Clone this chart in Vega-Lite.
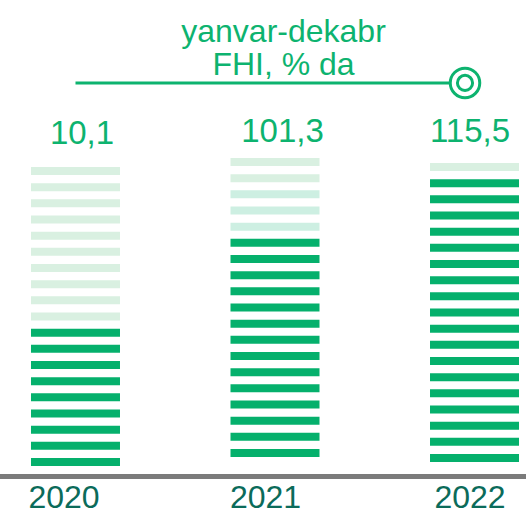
{
  "$schema": "https://vega.github.io/schema/vega-lite/v6.json",
  "width": 526,
  "height": 514,
  "padding": 0,
  "autosize": {"type": "none"},
  "background": "white",
  "config": {"view": {"stroke": null}},
  "datasets": {
    "stripes": [
      {"year": "2020", "stripe": 1, "status": "dark"},
      {"year": "2020", "stripe": 2, "status": "dark"},
      {"year": "2020", "stripe": 3, "status": "dark"},
      {"year": "2020", "stripe": 4, "status": "dark"},
      {"year": "2020", "stripe": 5, "status": "dark"},
      {"year": "2020", "stripe": 6, "status": "dark"},
      {"year": "2020", "stripe": 7, "status": "dark"},
      {"year": "2020", "stripe": 8, "status": "dark"},
      {"year": "2020", "stripe": 9, "status": "dark"},
      {"year": "2020", "stripe": 10, "status": "light"},
      {"year": "2020", "stripe": 11, "status": "light"},
      {"year": "2020", "stripe": 12, "status": "light"},
      {"year": "2020", "stripe": 13, "status": "light"},
      {"year": "2020", "stripe": 14, "status": "light"},
      {"year": "2020", "stripe": 15, "status": "light"},
      {"year": "2020", "stripe": 16, "status": "light"},
      {"year": "2020", "stripe": 17, "status": "light"},
      {"year": "2020", "stripe": 18, "status": "light"},
      {"year": "2020", "stripe": 19, "status": "light"},
      {"year": "2021", "stripe": 1, "status": "dark"},
      {"year": "2021", "stripe": 2, "status": "dark"},
      {"year": "2021", "stripe": 3, "status": "dark"},
      {"year": "2021", "stripe": 4, "status": "dark"},
      {"year": "2021", "stripe": 5, "status": "dark"},
      {"year": "2021", "stripe": 6, "status": "dark"},
      {"year": "2021", "stripe": 7, "status": "dark"},
      {"year": "2021", "stripe": 8, "status": "dark"},
      {"year": "2021", "stripe": 9, "status": "dark"},
      {"year": "2021", "stripe": 10, "status": "dark"},
      {"year": "2021", "stripe": 11, "status": "dark"},
      {"year": "2021", "stripe": 12, "status": "dark"},
      {"year": "2021", "stripe": 13, "status": "dark"},
      {"year": "2021", "stripe": 14, "status": "dark"},
      {"year": "2021", "stripe": 15, "status": "mint"},
      {"year": "2021", "stripe": 16, "status": "mint"},
      {"year": "2021", "stripe": 17, "status": "mint"},
      {"year": "2021", "stripe": 18, "status": "light"},
      {"year": "2021", "stripe": 19, "status": "light"},
      {"year": "2022", "stripe": 1, "status": "dark"},
      {"year": "2022", "stripe": 2, "status": "dark"},
      {"year": "2022", "stripe": 3, "status": "dark"},
      {"year": "2022", "stripe": 4, "status": "dark"},
      {"year": "2022", "stripe": 5, "status": "dark"},
      {"year": "2022", "stripe": 6, "status": "dark"},
      {"year": "2022", "stripe": 7, "status": "dark"},
      {"year": "2022", "stripe": 8, "status": "dark"},
      {"year": "2022", "stripe": 9, "status": "dark"},
      {"year": "2022", "stripe": 10, "status": "dark"},
      {"year": "2022", "stripe": 11, "status": "dark"},
      {"year": "2022", "stripe": 12, "status": "dark"},
      {"year": "2022", "stripe": 13, "status": "dark"},
      {"year": "2022", "stripe": 14, "status": "dark"},
      {"year": "2022", "stripe": 15, "status": "dark"},
      {"year": "2022", "stripe": 16, "status": "dark"},
      {"year": "2022", "stripe": 17, "status": "dark"},
      {"year": "2022", "stripe": 18, "status": "dark"},
      {"year": "2022", "stripe": 19, "status": "light"}
    ],
    "vals": [
      {"year": "2020", "label": "10,1"},
      {"year": "2021", "label": "101,3"},
      {"year": "2022", "label": "115,5"}
    ]
  },
  "data": {"name": "stripes"},
  "layer": [
    {
      "transform": [{"filter": "datum.year === '2020'"}],
      "mark": {"type": "tick", "orient": "horizontal", "thickness": 8, "size": 89, "yOffset": 4, "opacity": 1},
      "encoding": {
        "x": {"field": "year", "type": "nominal", "axis": null,
              "scale": {"domain": ["2020", "2021", "2022"], "range": [31, 519], "paddingInner": 0.554, "paddingOuter": 0}},
        "y": {"field": "stripe", "type": "quantitative", "axis": null,
              "scale": {"domain": [-2.464, 29.33], "nice": false, "zero": false}},
        "color": {"field": "status", "type": "nominal", "legend": null,
                  "scale": {"domain": ["dark", "light", "mint"], "range": ["#05b06c", "#d9f0e1", "#cdefe2"]}}
      }
    },
    {
      "transform": [{"filter": "datum.year === '2021'"}],
      "mark": {"type": "tick", "orient": "horizontal", "thickness": 8, "size": 89, "yOffset": -5, "opacity": 1},
      "encoding": {
        "x": {"field": "year", "type": "nominal"},
        "y": {"field": "stripe", "type": "quantitative"},
        "color": {"field": "status", "type": "nominal", "legend": null}
      }
    },
    {
      "transform": [{"filter": "datum.year === '2022'"}],
      "mark": {"type": "tick", "orient": "horizontal", "thickness": 8, "size": 89, "yOffset": 0, "opacity": 1},
      "encoding": {
        "x": {"field": "year", "type": "nominal"},
        "y": {"field": "stripe", "type": "quantitative"},
        "color": {"field": "status", "type": "nominal", "legend": null}
      }
    },
    {
      "data": {"values": [{}]},
      "mark": {"type": "rule", "color": "#7b7b7b", "strokeWidth": 5, "strokeCap": "round"},
      "encoding": {
        "y": {"datum": -0.144, "type": "quantitative"}
      }
    },
    {
      "data": {"name": "vals"},
      "transform": [{"filter": "datum.year === '2020'"}],
      "mark": {"type": "text", "font": "Liberation Sans", "fontSize": 33, "color": "#0db36f", "align": "center", "baseline": "alphabetic", "dx": 6.5},
      "encoding": {
        "x": {"field": "year", "type": "nominal"},
        "y": {"datum": 20.42, "type": "quantitative"},
        "text": {"field": "label"}
      }
    },
    {
      "data": {"name": "vals"},
      "transform": [{"filter": "datum.year === '2021'"}],
      "mark": {"type": "text", "font": "Liberation Sans", "fontSize": 33, "color": "#0db36f", "align": "center", "baseline": "alphabetic", "dx": 7.5},
      "encoding": {
        "x": {"field": "year", "type": "nominal"},
        "y": {"datum": 20.52, "type": "quantitative"},
        "text": {"field": "label"}
      }
    },
    {
      "data": {"name": "vals"},
      "transform": [{"filter": "datum.year === '2022'"}],
      "mark": {"type": "text", "font": "Liberation Sans", "fontSize": 33, "color": "#0db36f", "align": "center", "baseline": "alphabetic", "dx": -4.5},
      "encoding": {
        "x": {"field": "year", "type": "nominal"},
        "y": {"datum": 20.52, "type": "quantitative"},
        "text": {"field": "label"}
      }
    },
    {
      "data": {"name": "vals"},
      "transform": [{"filter": "datum.year === '2020'"}],
      "mark": {"type": "text", "font": "Liberation Sans", "fontSize": 32, "color": "#0b6b5a", "align": "center", "baseline": "alphabetic", "dx": -11.5},
      "encoding": {
        "x": {"field": "year", "type": "nominal"},
        "y": {"datum": -2.093, "type": "quantitative"},
        "text": {"field": "year"}
      }
    },
    {
      "data": {"name": "vals"},
      "transform": [{"filter": "datum.year === '2021'"}],
      "mark": {"type": "text", "font": "Liberation Sans", "fontSize": 32, "color": "#0b6b5a", "align": "center", "baseline": "alphabetic", "dx": -9.5},
      "encoding": {
        "x": {"field": "year", "type": "nominal"},
        "y": {"datum": -2.093, "type": "quantitative"},
        "text": {"field": "year"}
      }
    },
    {
      "data": {"name": "vals"},
      "transform": [{"filter": "datum.year === '2022'"}],
      "mark": {"type": "text", "font": "Liberation Sans", "fontSize": 32, "color": "#0b6b5a", "align": "center", "baseline": "alphabetic", "dx": -4.5},
      "encoding": {
        "x": {"field": "year", "type": "nominal"},
        "y": {"datum": -2.093, "type": "quantitative"},
        "text": {"field": "year"}
      }
    },
    {
      "data": {"values": [{}]},
      "mark": {"type": "text", "text": "yanvar-dekabr", "font": "Liberation Sans", "fontSize": 32, "color": "#0db36f", "align": "center", "baseline": "alphabetic", "dx": 8.5},
      "encoding": {
        "x": {"datum": "2021", "type": "nominal"},
        "y": {"datum": 26.73, "type": "quantitative"}
      }
    },
    {
      "data": {"values": [{}]},
      "mark": {"type": "text", "text": "FHI, % da", "font": "Liberation Sans", "fontSize": 32, "color": "#0db36f", "align": "center", "baseline": "alphabetic", "dx": 8.5},
      "encoding": {
        "x": {"datum": "2021", "type": "nominal"},
        "y": {"datum": 24.69, "type": "quantitative"}
      }
    },
    {
      "data": {"values": [{}]},
      "mark": {"type": "rule", "color": "#0db36f", "strokeWidth": 3, "x2Offset": -9.5},
      "encoding": {
        "x": {"datum": "2020", "type": "nominal"},
        "x2": {"datum": "2022"},
        "y": {"datum": 24.2, "type": "quantitative"}
      }
    },
    {
      "data": {"values": [{}]},
      "mark": {"type": "point", "shape": "circle", "filled": false, "fill": "white", "fillOpacity": 1, "stroke": "#0db36f", "strokeWidth": 3, "strokeOpacity": 1, "opacity": 1, "size": 870, "xOffset": -9.5},
      "encoding": {
        "x": {"datum": "2022", "type": "nominal"},
        "y": {"datum": 24.2, "type": "quantitative"}
      }
    },
    {
      "data": {"values": [{}]},
      "mark": {"type": "point", "shape": "circle", "filled": false, "fillOpacity": 0, "stroke": "#0db36f", "strokeWidth": 3, "strokeOpacity": 1, "opacity": 1, "size": 230, "xOffset": -9.5},
      "encoding": {
        "x": {"datum": "2022", "type": "nominal"},
        "y": {"datum": 24.2, "type": "quantitative"}
      }
    }
  ]
}
